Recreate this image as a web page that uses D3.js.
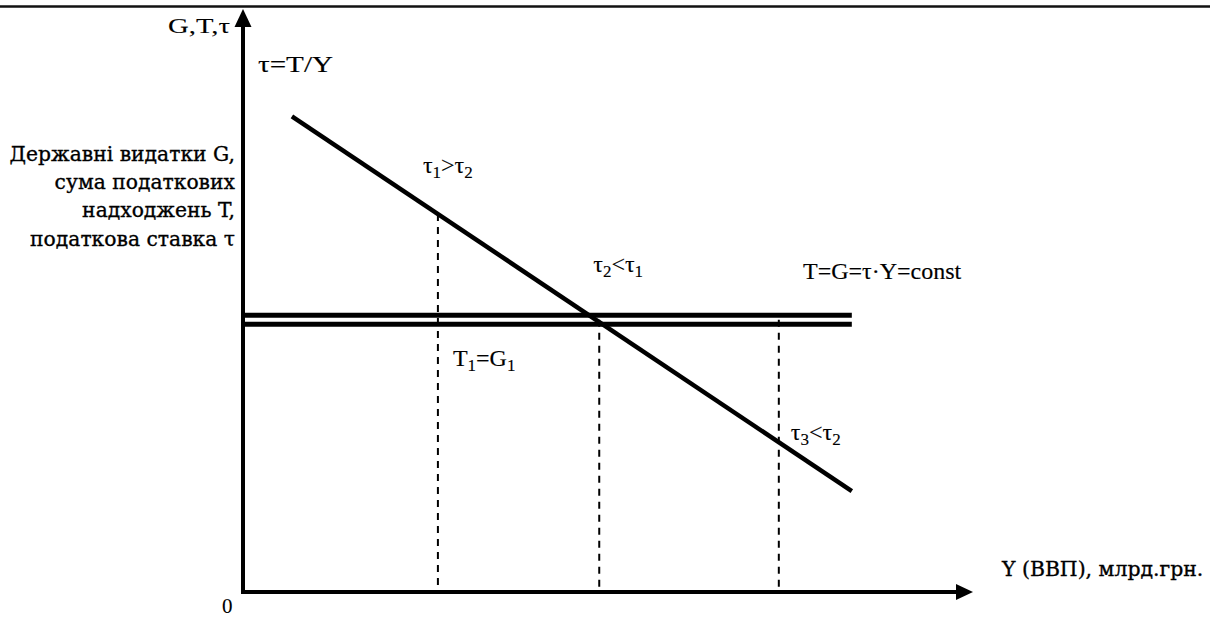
<!DOCTYPE html>
<html>
<head>
<meta charset="utf-8">
<script src="https://cdn.jsdelivr.net/npm/d3@7/dist/d3.min.js"></script>
<style>
  html, body { margin: 0; padding: 0; background: #fff; }
  svg { display: block; }
</style>
</head>
<body>
<svg id="chart" width="1210" height="617"></svg>
<script>
// ---- data (in abstract units: Y = GDP, V = G, T, tau) ----
const gdpLevels = [26.7, 48.8, 73.4];          // Y1, Y2, Y3 (dashed verticals)
const taxRateLineY = [6.7, 83.4];              // tau = T/Y line: Y at start / end
const taxRateLineV = [81.6, 17.3];             // tau = T/Y line: value at start / end
const budgetLevel = [46.7];                    // T = G = const
const yAxisLabelLines = ["Державні видатки G,", "сума податкових", "надходжень T,", "податкова ставка τ"];
const axisTitleX = "Y (ВВП), млрд.грн.";
const axisTitleY = "G,T,τ";
const originLabel = "0";

const svg = d3.select("#chart");
const W = 1210, H = 617;

const x = d3.scaleLinear().domain([0, 100]).range([243, 973]);
const y = d3.scaleLinear().domain([0, 100]).range([592, 9]);

const mathFont = "'Liberation Serif', 'Times New Roman', serif";
const textFont = "'DejaVu Serif', serif";

// top border rule
svg.append("line")
  .attr("x1", 0).attr("x2", W).attr("y1", 6.5).attr("y2", 6.5)
  .attr("stroke", "#111").attr("stroke-width", 2.5);

// dashed verticals
const tauAt = Y => d3.scaleLinear().domain(taxRateLineY).range(taxRateLineV)(Y);
svg.append("g").selectAll("line")
  .data(gdpLevels)
  .join("line")
  .attr("x1", d => x(d)).attr("x2", d => x(d))
  .attr("y1", (d, i) => i === 0 ? y(tauAt(d)) : y(budgetLevel[0]))
  .attr("y2", y(0))
  .attr("stroke", "#000").attr("stroke-width", 2)
  .attr("stroke-dasharray", "7,6");

// double line T = G = const
const gLine = svg.append("g");
[-4.6, 4.6].forEach(off => {
  gLine.append("line")
    .attr("x1", x(0)).attr("x2", x(taxRateLineY[1]))
    .attr("y1", y(budgetLevel[0]) + off).attr("y2", y(budgetLevel[0]) + off)
    .attr("stroke", "#000").attr("stroke-width", 5);
});

// tau = T/Y line
const lineGen = d3.line().x(d => x(d[0])).y(d => y(d[1]));
svg.append("path")
  .datum(taxRateLineY.map((Y, i) => [Y, taxRateLineV[i]]))
  .attr("d", lineGen)
  .attr("fill", "none").attr("stroke", "#000").attr("stroke-width", 4.5);

// axes
const axisW = 4;
svg.append("line")
  .attr("x1", x(0)).attr("x2", x(0)).attr("y1", y(0) + axisW / 2).attr("y2", y(100) + 14)
  .attr("stroke", "#000").attr("stroke-width", axisW);
svg.append("line")
  .attr("x1", x(0) - axisW / 2).attr("x2", x(100) - 14).attr("y1", y(0)).attr("y2", y(0))
  .attr("stroke", "#000").attr("stroke-width", axisW);
// arrowheads
svg.append("path")
  .attr("d", `M${x(0)},${y(100)} L${x(0) + 8.5},${y(100) + 18} L${x(0) - 8.5},${y(100) + 18} Z`)
  .attr("fill", "#000");
svg.append("path")
  .attr("d", `M${x(100)},${y(0)} L${x(100) - 17},${y(0) - 8} L${x(100) - 17},${y(0) + 8} Z`)
  .attr("fill", "#000");

// ---- text ----
const heavy = (sel, w) => sel.attr("stroke", "#000").attr("stroke-width", w).attr("fill", "#000");

// y-axis title
heavy(svg.append("text")
  .attr("x", x(0) - 13).attr("y", 33)
  .attr("text-anchor", "end")
  .attr("font-family", mathFont).attr("font-size", 22)
  .attr("textLength", 62).attr("lengthAdjust", "spacingAndGlyphs")
  .text(axisTitleY), 0.1);

// left description block
heavy(svg.append("g").selectAll("text")
  .data(yAxisLabelLines)
  .join("text")
  .attr("x", x(0) - 8)
  .attr("y", (d, i) => 161 + i * 28.2)
  .attr("text-anchor", "end")
  .attr("font-family", textFont).attr("font-size", 20.3)
  .text(d => d), 0.35);

// x-axis title
heavy(svg.append("text")
  .attr("x", 1002).attr("y", 576)
  .attr("font-family", textFont).attr("font-size", 20.4)
  .text(axisTitleX), 0.35);

// origin
heavy(svg.append("text")
  .attr("x", x(0) - 21).attr("y", 613)
  .attr("font-family", mathFont).attr("font-size", 21)
  .text(originLabel), 0.1);

// math labels with subscripts
function mathLabel(px, py, parts, size, len) {
  const t = heavy(svg.append("text")
    .attr("x", px).attr("y", py)
    .attr("font-family", mathFont).attr("font-size", size || 24), 0.15);
  if (len) t.attr("textLength", len).attr("lengthAdjust", "spacingAndGlyphs");
  let shifted = false;
  parts.forEach(p => {
    const ts = t.append("tspan").text(p.t);
    if (p.sub && !shifted) { ts.attr("dy", 5).attr("font-size", 17); shifted = true; }
    else if (p.sub && shifted) { ts.attr("font-size", 17); }
    else if (!p.sub && shifted) { ts.attr("dy", -5); shifted = false; }
  });
  return t;
}

mathLabel(258, 72, [{t: "τ=T/Y"}], 24, 75);
mathLabel(x(gdpLevels[0]) - 15, 173, [{t: "τ"}, {t: "1", sub: true}, {t: ">τ"}, {t: "2", sub: true}]);
mathLabel(x(gdpLevels[1]) - 6, 272, [{t: "τ"}, {t: "2", sub: true}, {t: "<τ"}, {t: "1", sub: true}]);
mathLabel(803, 279, [{t: "T=G=τ·Y=const"}]);
mathLabel(x(gdpLevels[0]) + 15, 366, [{t: "T"}, {t: "1", sub: true}, {t: "=G"}, {t: "1", sub: true}]);
mathLabel(x(gdpLevels[2]) + 12, 440, [{t: "τ"}, {t: "3", sub: true}, {t: "<τ"}, {t: "2", sub: true}]);
</script>
</body>
</html>
